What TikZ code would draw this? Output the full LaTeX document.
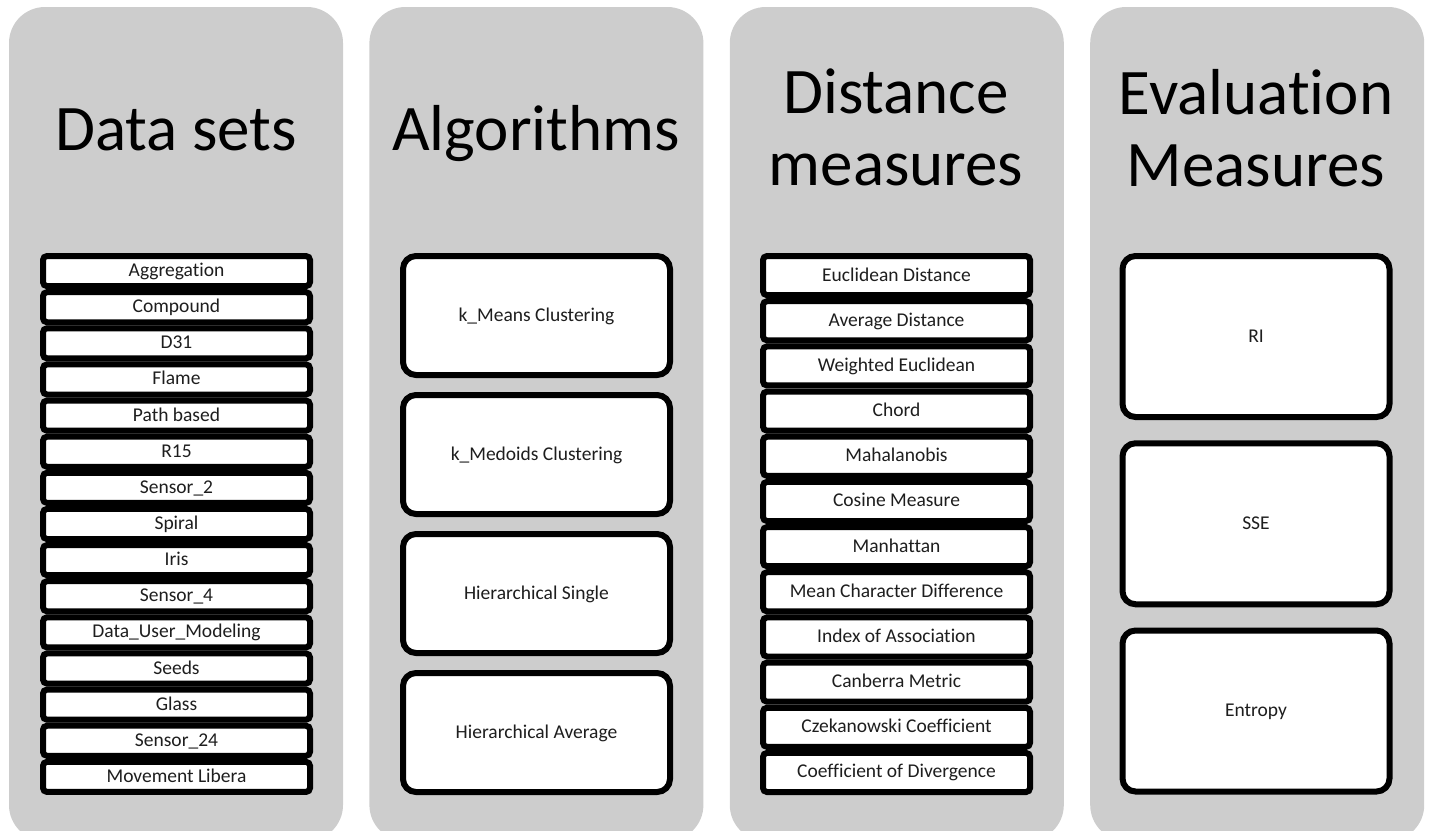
\documentclass[tikz,border=0pt]{standalone}
\usepackage{fontspec}
\setmainfont{Carlito}[Ligatures=NoCommon]
\usetikzlibrary{positioning}
\definecolor{panelgray}{HTML}{CDCDCD}
\definecolor{itemtext}{HTML}{1E1E1E}
\tikzset{
        panel/.style={fill=panelgray,rounded corners=36pt,minimum width=334pt,minimum height=834pt,inner sep=0pt},
        heading/.style={font=\fontsize{65}{72}\selectfont,align=center,anchor=base,inner sep=0pt},
        item/.style={draw=black,line width=6pt,fill=white,text=itemtext,font=\fontsize{19.5}{22}\selectfont,
            text height=12pt,text depth=1pt,minimum width=267pt,inner sep=0pt},
        thinbox/.style={item,rounded corners=4pt},
        bigbox/.style={item,rounded corners=13pt}
    }
\begin{document}
\begin{tikzpicture}[x=1pt,y=-1pt]
    \clip (0,0) rectangle (1429,830);
    % the four columns
    \node[panel] (datapanel) at (176,424) {};
    \node[panel,right=26pt of datapanel] (algopanel) {};
    \node[panel,right=26pt of algopanel] (distpanel) {};
    \node[panel,right=26pt of distpanel] (evalpanel) {};
    % headings (base = last line)
    \node[heading] (datatitle) at (176,150) {Data sets};
    \node[heading] (algotitle) at (536,150) {Algorithms};
    \node[heading] (disttitle) at (896,185) {Distance\\measures};
    \node[heading] (evaltitle) at (1256,186) {Evaluation\\Measures};
    % data sets
    \foreach \name [count=\i] in {Aggregation,Compound,D31,Flame,Path based,R15,Sensor\_2,Spiral,Iris,Sensor\_4,Data\_User\_Modeling,Seeds,Glass,Sensor\_24,Movement Libera}
        \node[thinbox,minimum height=30.1pt] (data\i) at (176.5,{271.07+36.13*(\i-1)}) {\name};
    % algorithms
    \foreach \name [count=\i] in {k\_Means Clustering,k\_Medoids Clustering,Hierarchical Single,Hierarchical Average}
        \node[bigbox,minimum height=119pt] (algo\i) at (536.5,{315.5+139*(\i-1)}) {\name};
    % distance measures
    \foreach \name [count=\i] in {Euclidean Distance,Average Distance,Weighted Euclidean,Chord,Mahalanobis,Cosine Measure,Manhattan,Mean Character Difference,Index of Association,Canberra Metric,Czekanowski Coefficient,Coefficient of Divergence}
        \node[thinbox,minimum height=39.1pt] (dist\i) at (896.5,{275.6+45.17*(\i-1)}) {\name};
    % evaluation measures
    \foreach \name [count=\i] in {RI,SSE,Entropy}
        \node[bigbox,minimum height=161pt] (eval\i) at (1256,{336.5+187.25*(\i-1)}) {\name};
\end{tikzpicture}
\end{document}
